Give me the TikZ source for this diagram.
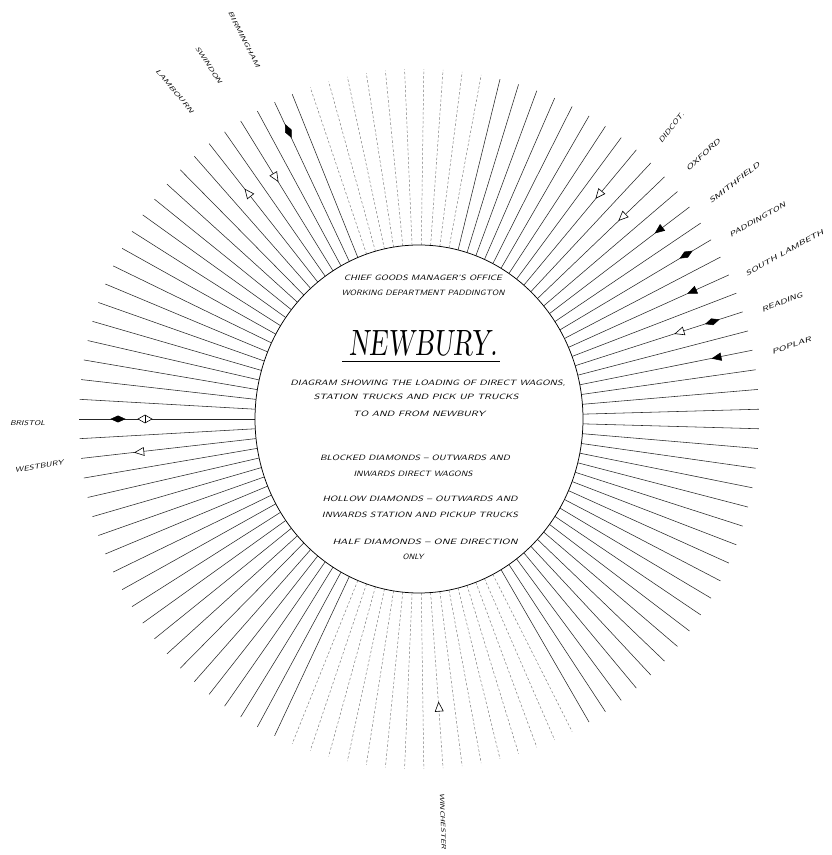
\documentclass[tikz,border=0pt]{standalone}
\usepackage{graphicx}
\newcommand\hwtext[3]{\resizebox{#1pt}{#2pt}{\sffamily\slshape #3}}
\newcommand\mkFD{\filldraw[fmark] (-7,0)--(0,3.2)--(7,0)--(0,-3.2)--cycle;}
\newcommand\mkHD{\filldraw[hmark] (-7,0)--(0,4)--(7,0)--(0,-4)--cycle; \draw[hmark] (0,-4)--(0,4);}
\newcommand\mkFTin{\filldraw[fmark] (-5,0)--(4,3.8)--(4,-3.8)--cycle;}
\newcommand\mkHTin{\filldraw[hmark] (-5,0)--(4,4)--(4,-4)--cycle;}
\newcommand\mkHTout{\filldraw[hmark] (5,0)--(-4,4)--(-4,-4)--cycle;}
\newcommand\mkAt[3]{\begin{scope}[shift={({419+#2*cos(#1)},{436+(#2+10)*sin(#1)})},rotate=#1]#3\end{scope}}
\begin{document}
\begin{tikzpicture}[x=1pt,y=1pt,
  ray/.style={line width=0.55pt, black!85},
  fray/.style={line width=0.5pt, black!50, dash pattern=on 2.5pt off 2pt},
  fmark/.style={fill=black, draw=black, line width=0.5pt},
  hmark/.style={fill=white, draw=black, line width=0.6pt},
  ctxt/.style={inner sep=0pt, outer sep=0pt, anchor=center},
  lbl/.style={inner sep=0pt, outer sep=0pt, anchor=west}]
\useasboundingbox (0,0) rectangle (832,855);
\clip (0,0) rectangle (832,855);
\fill[white] (0,0) rectangle (832,855);
\coordinate (C) at (419,436);
% rays
\foreach \k in {0,...,54}{
  \pgfmathsetmacro\t{1.6+\k*3.244}
  \pgfmathtruncatemacro\du{and(\t>77,\t<109)}
  \pgfmathtruncatemacro\dl{and(\t>62,\t<114)}
  \ifnum\du=1
    \draw[fray] ({419+164*cos(\t)},{436+174*sin(\t)}) -- ({419+340*cos(\t)},{436+350*sin(\t)});
  \else
    \draw[ray] ({419+164*cos(\t)},{436+174*sin(\t)}) -- ({419+340*cos(\t)},{436+350*sin(\t)});
  \fi
  \ifnum\dl=1
    \draw[fray] ({419+164*cos(\t)},{436-174*sin(\t)}) -- ({419+340*cos(\t)},{436-350*sin(\t)});
  \else
    \draw[ray] ({419+164*cos(\t)},{436-174*sin(\t)}) -- ({419+340*cos(\t)},{436-350*sin(\t)});
  \fi
}
\draw[ray] (255,436) -- (79,436);
% inner circle
\draw[line width=0.75pt, fill=white] (C) ellipse [x radius=164, y radius=174];
% markers
\mkAt{115.1}{308}{\mkFD}
\mkAt{121.6}{274}{\mkHTin}
\mkAt{128.1}{277}{\mkHTout}
\mkAt{50.3}{282}{\mkHTin}
\mkAt{43.8}{282}{\mkHTin}
\mkAt{37.3}{302}{\mkFTin}
\mkAt{30.8}{311}{\mkFD}
\mkAt{24.3}{300}{\mkFTin}
\mkAt{17.8}{274}{\mkHTin}
\mkAt{17.8}{308}{\mkFD}
\mkAt{11.3}{304}{\mkFTin}
\mkAt{180}{301}{\mkFD}
\mkAt{180}{274}{\mkHD}
\mkAt{186.5}{281}{\mkHTout}
\mkAt{274.1}{279}{\mkHTin}
% centre text
\node[ctxt] (t1) at (423,577) {\hwtext{158}{5.5}{CHIEF GOODS MANAGER'S OFFICE}};
\node[ctxt] (t2) at (423,562) {\hwtext{163}{5.5}{WORKING DEPARTMENT PADDINGTON}};
\node[ctxt] (title) at (424,512) {\resizebox{148pt}{25pt}{\rmfamily\slshape NEWBURY.}};
\draw[line width=0.8pt] (342,494) -- (500,494);
\node[ctxt] (t4) at (428,472) {\hwtext{275}{5.5}{DIAGRAM SHOWING THE LOADING OF DIRECT WAGONS,}};
\node[ctxt] (t5) at (416,458) {\hwtext{205}{5.5}{STATION TRUCKS AND PICK UP TRUCKS}};
\node[ctxt] (t6) at (419,441) {\hwtext{132}{5.5}{TO AND FROM NEWBURY}};
\node[ctxt] (t7) at (415,397) {\hwtext{190}{5.5}{BLOCKED DIAMONDS -- OUTWARDS AND}};
\node[ctxt] (t8) at (413,381) {\hwtext{119}{5.5}{INWARDS DIRECT WAGONS}};
\node[ctxt] (t9) at (420,356) {\hwtext{195}{5.5}{HOLLOW DIAMONDS -- OUTWARDS AND}};
\node[ctxt] (t10) at (420,340) {\hwtext{196}{5.5}{INWARDS STATION AND PICKUP TRUCKS}};
\node[ctxt] (t11) at (425,313) {\hwtext{185}{5.5}{HALF DIAMONDS -- ONE DIRECTION}};
\node[ctxt] (t12) at (413,298) {\hwtext{21}{5.5}{ONLY}};
% station labels
\node[lbl, rotate=52] (didcot) at (660,713) {\hwtext{37}{5}{DIDCOT.}};
\node[lbl, rotate=43] (oxford) at (687,685) {\hwtext{44}{5}{OXFORD}};
\node[lbl, rotate=38] (smith) at (710,653) {\hwtext{62}{5}{SMITHFIELD}};
\node[lbl, rotate=29] (padd) at (730,620) {\hwtext{63}{5}{PADDINGTON}};
\node[lbl, rotate=29] (slamb) at (746,581) {\hwtext{88}{5}{SOUTH LAMBETH}};
\node[lbl, rotate=21] (reading) at (762,545) {\hwtext{43}{5}{READING}};
\node[lbl, rotate=19] (poplar) at (772,503) {\hwtext{41}{5}{POPLAR}};
\node[lbl, rotate=-63] (birm) at (230,843) {\hwtext{62}{4.5}{BIRMINGHAM}};
\node[lbl, rotate=-57] (swindon) at (197,808) {\hwtext{43}{4.5}{SWINDON}};
\node[lbl, rotate=-50] (lamb) at (157,785) {\hwtext{55}{4.5}{LAMBOURN}};
\node[lbl] (bristol) at (10,432) {\hwtext{35}{5}{BRISTOL}};
\node[lbl, rotate=9] (westbury) at (15,385) {\hwtext{49}{5}{WESTBURY}};
\node[lbl, rotate=-88] (winch) at (442,62) {\hwtext{56}{4.5}{WINCHESTER}};
\end{tikzpicture}
\end{document}
